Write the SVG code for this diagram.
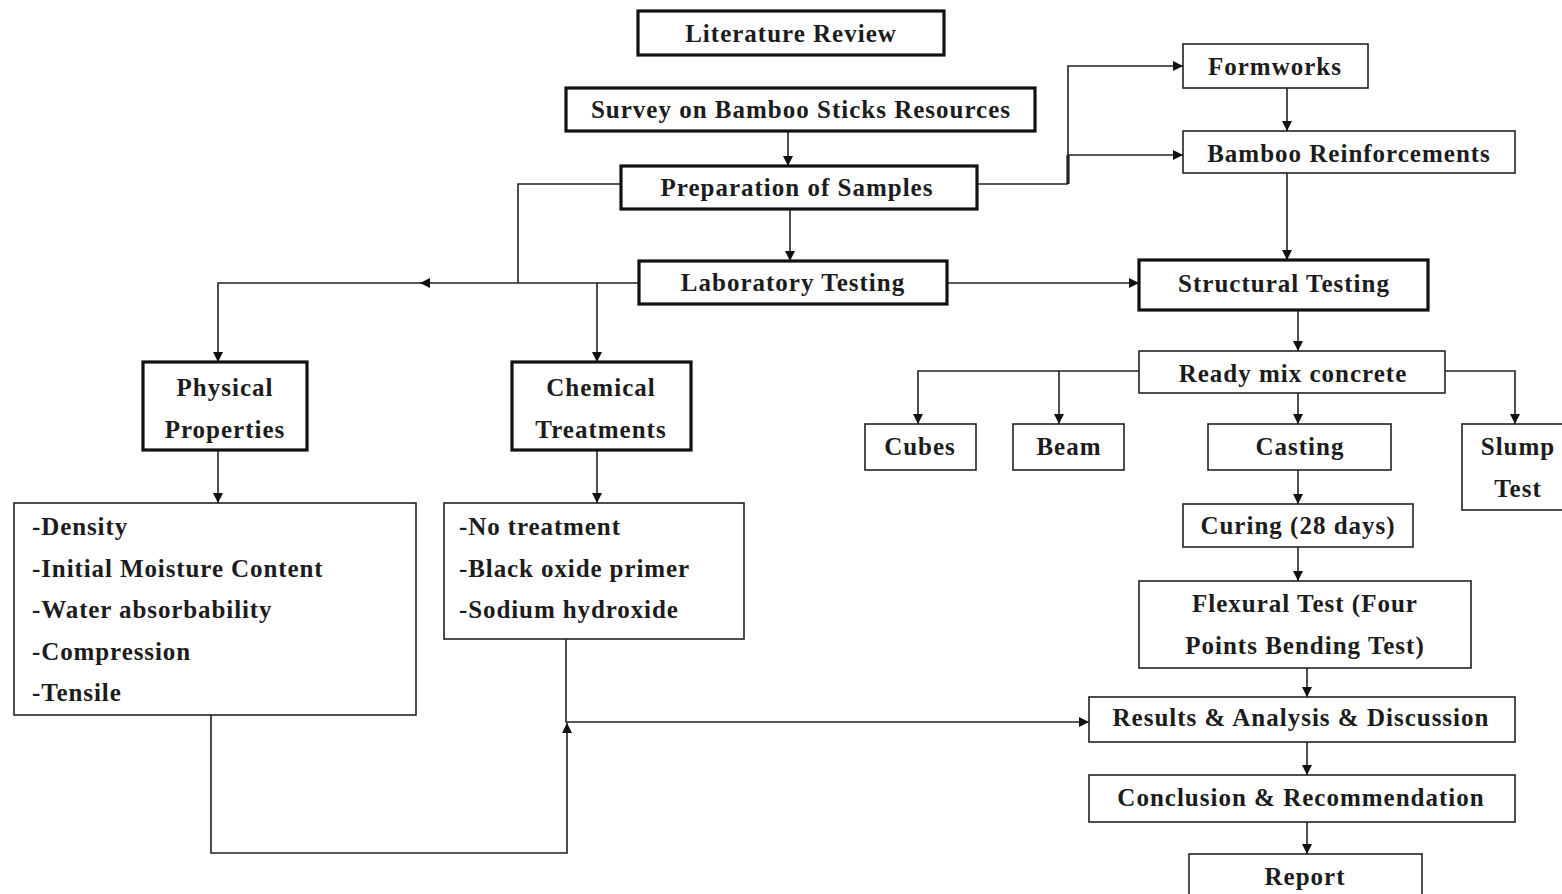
<svg xmlns="http://www.w3.org/2000/svg" width="1562" height="894" viewBox="0 0 1562 894">
  <style>
    .bg { fill: #ffffff; }
    .box { fill: #ffffff; stroke: #222222; stroke-width: 1.6; }
    .bold-box { fill: #ffffff; stroke: #111111; stroke-width: 3.2; }
    .t { font-family: "Liberation Serif", "Times New Roman", serif; font-weight: bold; font-size: 25px; letter-spacing: 1px; fill: #1c1c1c; text-anchor: middle; }
    .l { font-family: "Liberation Serif", "Times New Roman", serif; font-weight: bold; font-size: 25px; letter-spacing: 0.9px; fill: #1c1c1c; text-anchor: start; }
    .c { fill: none; stroke: #222222; stroke-width: 1.6; }
    .ca { fill: none; stroke: #222222; stroke-width: 1.6; marker-end: url(#arrow); }
  </style>
  <defs>
    <marker id="arrow" viewBox="0 0 10 10" refX="10" refY="5" markerWidth="12" markerHeight="10" markerUnits="userSpaceOnUse" orient="auto">
      <path d="M0,0 L10,5 L0,10 Z" fill="#111111"/>
    </marker>
  </defs>

  <rect class="bg" x="0" y="0" width="1562" height="894"/>

  <!-- connectors -->
  <g id="connectors">
    <path class="ca" d="M788,131 V166"/>
    <path class="ca" d="M790,209 V261"/>
    <path class="c" d="M621,184 H518 V283"/>
    <path class="ca" d="M639,283 H420"/>
    <path class="ca" d="M421,283 H218 V362"/>
    <path class="ca" d="M597,283 V362"/>
    <path class="ca" d="M218,450 V503"/>
    <path class="ca" d="M597,450 V503"/>
    <path class="ca" d="M211,715 V853 H567 V723"/>
    <path class="ca" d="M566,639 V722 H1089"/>
    <path class="c" d="M977,184 H1068"/>
    <path class="c" d="M1068,184 V155" style="stroke-width:3.2"/>
    <path class="ca" d="M1068,155 V66 H1183"/>
    <path class="ca" d="M1068,155 H1183"/>
    <path class="ca" d="M1287,88 V131"/>
    <path class="ca" d="M1287,173 V260"/>
    <path class="ca" d="M947,283 H1139"/>
    <path class="ca" d="M1298,310 V351"/>
    <path class="ca" d="M1139,371 H918 V424"/>
    <path class="ca" d="M1059,371 V424"/>
    <path class="ca" d="M1298,393 V424"/>
    <path class="ca" d="M1445,371 H1515 V424"/>
    <path class="ca" d="M1298,470 V504"/>
    <path class="ca" d="M1298,547 V581"/>
    <path class="ca" d="M1307,668 V697"/>
    <path class="ca" d="M1307,742 V775"/>
    <path class="ca" d="M1307,822 V854"/>
  </g>

  <!-- main column -->
  <g id="literature-review">
    <rect class="bold-box" x="638" y="11" width="306" height="44"/>
    <text class="t" x="791" y="42">Literature Review</text>
  </g>
  <g id="survey">
    <rect class="bold-box" x="566" y="88" width="469" height="43"/>
    <text class="t" x="801" y="118">Survey on Bamboo Sticks Resources</text>
  </g>
  <g id="preparation">
    <rect class="bold-box" x="621" y="166" width="356" height="43"/>
    <text class="t" x="797" y="196">Preparation of Samples</text>
  </g>
  <g id="laboratory-testing">
    <rect class="bold-box" x="639" y="261" width="308" height="43"/>
    <text class="t" x="793" y="291">Laboratory Testing</text>
  </g>

  <!-- laboratory branch -->
  <g id="physical-properties">
    <rect class="bold-box" x="143" y="362" width="164" height="88"/>
    <text class="t" x="225" y="396">Physical</text>
    <text class="t" x="225" y="438">Properties</text>
  </g>
  <g id="chemical-treatments">
    <rect class="bold-box" x="512" y="362" width="179" height="88"/>
    <text class="t" x="601" y="396">Chemical</text>
    <text class="t" x="601" y="438">Treatments</text>
  </g>
  <g id="physical-list">
    <rect class="box" x="14" y="503" width="402" height="212"/>
    <text class="l" x="32" y="535">-Density</text>
    <text class="l" x="32" y="577">-Initial Moisture Content</text>
    <text class="l" x="32" y="618">-Water absorbability</text>
    <text class="l" x="32" y="660">-Compression</text>
    <text class="l" x="32" y="701">-Tensile</text>
  </g>
  <g id="chemical-list">
    <rect class="box" x="444" y="503" width="300" height="136"/>
    <text class="l" x="459" y="535">-No treatment</text>
    <text class="l" x="459" y="577">-Black oxide primer</text>
    <text class="l" x="459" y="618">-Sodium hydroxide</text>
  </g>

  <!-- structural branch -->
  <g id="formworks">
    <rect class="box" x="1183" y="44" width="185" height="44"/>
    <text class="t" x="1275" y="75">Formworks</text>
  </g>
  <g id="bamboo-reinforcements">
    <rect class="box" x="1183" y="131" width="332" height="42"/>
    <text class="t" x="1349" y="162">Bamboo Reinforcements</text>
  </g>
  <g id="structural-testing">
    <rect class="bold-box" x="1139" y="260" width="289" height="50"/>
    <text class="t" x="1284" y="292">Structural Testing</text>
  </g>
  <g id="ready-mix">
    <rect class="box" x="1139" y="351" width="306" height="42"/>
    <text class="t" x="1293" y="382">Ready mix concrete</text>
  </g>
  <g id="cubes">
    <rect class="box" x="865" y="424" width="111" height="46"/>
    <text class="t" x="920" y="455">Cubes</text>
  </g>
  <g id="beam">
    <rect class="box" x="1013" y="424" width="111" height="46"/>
    <text class="t" x="1069" y="455">Beam</text>
  </g>
  <g id="casting">
    <rect class="box" x="1208" y="424" width="183" height="46"/>
    <text class="t" x="1300" y="455">Casting</text>
  </g>
  <g id="slump-test">
    <rect class="box" x="1462" y="424" width="110" height="86"/>
    <text class="t" x="1518" y="455">Slump</text>
    <text class="t" x="1518" y="497">Test</text>
  </g>
  <g id="curing">
    <rect class="box" x="1183" y="504" width="230" height="43"/>
    <text class="t" x="1298" y="534">Curing (28 days)</text>
  </g>
  <g id="flexural-test">
    <rect class="box" x="1139" y="581" width="332" height="87"/>
    <text class="t" x="1305" y="612">Flexural Test (Four</text>
    <text class="t" x="1305" y="654">Points Bending Test)</text>
  </g>
  <g id="results">
    <rect class="box" x="1089" y="697" width="426" height="45"/>
    <text class="t" x="1301" y="726">Results &amp; Analysis &amp; Discussion</text>
  </g>
  <g id="conclusion">
    <rect class="box" x="1089" y="775" width="426" height="47"/>
    <text class="t" x="1301" y="806">Conclusion &amp; Recommendation</text>
  </g>
  <g id="report">
    <rect class="box" x="1189" y="854" width="233" height="50"/>
    <text class="t" x="1305" y="885">Report</text>
  </g>
</svg>
